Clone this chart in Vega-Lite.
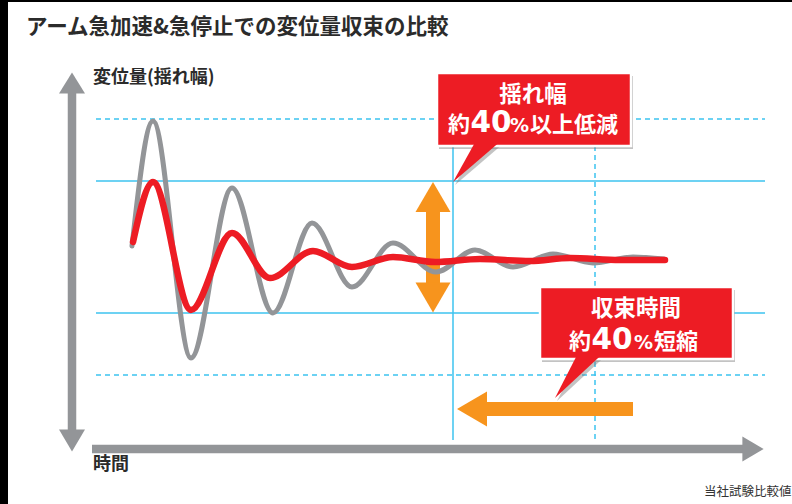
{
  "$schema": "https://vega.github.io/schema/vega-lite/v6.json",
  "width": 792,
  "height": 504,
  "autosize": "none",
  "padding": 0,
  "background": "white",
  "config": {"view": {"stroke": null}},
  "datasets": {
    "border": [{"t": -92, "t2": -84, "d": -244, "d2": 260}, {"t": -92, "t2": 700, "d": 258, "d2": 260}],
    "gridSolid": [{"t": 4, "t2": 673, "d": 79, "d2": 79}, {"t": 4, "t2": 673, "d": -53, "d2": -53}, {"t": 361, "t2": 361, "d": 150, "d2": -180}],
    "gridDashed": [{"t": 4, "t2": 673, "d": 141, "d2": 141}, {"t": 4, "t2": 673, "d": -115, "d2": -115}, {"t": 503, "t2": 503, "d": 150, "d2": -180}],
    "axisShaft": [{"t": -20, "t2": -20, "d": 170, "d2": -172}, {"t": 0, "t2": 653, "d": -189, "d2": -189}],
    "headUp": [{"t": -20, "d": 177}],
    "headDown": [{"t": -20, "d": -180.5}],
    "headRight": [{"t": 661, "d": -189}],
    "orangeShaft": [{"t": 341, "t2": 341, "d": 49, "d2": -24}, {"t": 393, "t2": 541, "d": -149, "d2": -149}],
    "orangeUp": [{"t": 341, "d": 63}],
    "orangeDown": [{"t": 341, "d": -37.5}],
    "orangeLeft": [{"t": 380, "d": -149}],
    "gray": [
      {"t": 40, "d": 14}, {"t": 61, "d": 139}, {"t": 99, "d": -98}, {"t": 140, "d": 72},
      {"t": 181, "d": -53}, {"t": 220, "d": 37}, {"t": 260, "d": -27}, {"t": 301, "d": 17},
      {"t": 344, "d": -12}, {"t": 383, "d": 10}, {"t": 421, "d": -7}, {"t": 461, "d": 6},
      {"t": 501, "d": -3}, {"t": 541, "d": 3}, {"t": 572, "d": 1}
    ],
    "red": [
      {"t": 41, "d": 18}, {"t": 61, "d": 78}, {"t": 99, "d": -50}, {"t": 140, "d": 27},
      {"t": 178, "d": -18}, {"t": 221, "d": 9}, {"t": 260, "d": -7}, {"t": 301, "d": 3},
      {"t": 343, "d": -2}, {"t": 388, "d": 1}, {"t": 438, "d": -1}, {"t": 478, "d": 2},
      {"t": 528, "d": 0}, {"t": 573, "d": 0}
    ],
    "boxes": [{"id": 1, "t": 345, "t2": 539, "d": 187, "d2": 114}, {"id": 2, "t": 448, "t2": 641, "d": -27, "d2": -99}],
    "pointers": [
      {"id": 1, "t": 361, "d": 78, "d2": 78}, {"id": 1, "t": 382.67, "d": 117, "d2": 96.57}, {"id": 1, "t": 406.5, "d": 117, "d2": 117},
      {"id": 2, "t": 463, "d": -138, "d2": -138}, {"id": 2, "t": 484.54, "d": -96, "d2": -118}, {"id": 2, "t": 508.23, "d": -96, "d2": -96}
    ],
    "title": [{"t": -66, "d": 232, "label": "アーム急加速&急停止での変位量収束の比較"}],
    "axisLabels": [{"t": 1, "d": 182, "label": "変位量(揺れ幅)"}, {"t": 1, "d": -205, "label": "時間"}],
    "note": [{"t": 612, "d": -232, "label": "当社試験比較値"}],
    "calloutHead": [{"t": 441, "d": 165, "label": "揺れ幅"}, {"t": 544, "d": -49, "label": "収束時間"}],
    "calloutKanji": [{"t": 356, "d": 128, "label": "約"}, {"t": 438, "d": 128, "label": "以上低減"}, {"t": 477, "d": -89, "label": "約"}, {"t": 562, "d": -89, "label": "短縮"}],
    "calloutNum": [{"t": 378.5, "d": 128, "label": "40"}, {"t": 499.5, "d": -89, "label": "40"}],
    "calloutPct": [{"t": 418, "d": 128, "label": "%"}, {"t": 542, "d": -89, "label": "%"}]
  },
  "encoding": {
    "x": {"field": "t", "type": "quantitative", "scale": {"domain": [-92, 700], "nice": false, "zero": false, "padding": 0}, "axis": null},
    "y": {"field": "d", "type": "quantitative", "scale": {"domain": [-244, 260], "nice": false, "zero": false, "padding": 0}, "axis": null}
  },
  "layer": [
    {"data": {"name": "border"}, "mark": {"type": "rect", "fill": "#000000"},
     "encoding": {"x2": {"field": "t2"}, "y2": {"field": "d2"}}},
    {"data": {"name": "gridSolid"}, "mark": {"type": "rule", "stroke": "#3cc3ef", "strokeWidth": 1.5},
     "encoding": {"x2": {"field": "t2"}, "y2": {"field": "d2"}}},
    {"data": {"name": "gridDashed"}, "mark": {"type": "rule", "stroke": "#3cc3ef", "strokeWidth": 1.5, "strokeDash": [5, 4]},
     "encoding": {"x2": {"field": "t2"}, "y2": {"field": "d2"}}},
    {"data": {"name": "axisShaft"}, "mark": {"type": "rule", "stroke": "#939598", "strokeWidth": 8.5, "strokeCap": "butt"},
     "encoding": {"x2": {"field": "t2"}, "y2": {"field": "d2"}}},
    {"data": {"name": "headUp"}, "mark": {"type": "point", "shape": "M0,-0.8L1,0.8L-1,0.8Z", "size": 676, "filled": true, "fill": "#939598", "opacity": 1, "strokeWidth": 0}},
    {"data": {"name": "headDown"}, "mark": {"type": "point", "shape": "M0,0.85L1,-0.85L-1,-0.85Z", "size": 676, "filled": true, "fill": "#939598", "opacity": 1, "strokeWidth": 0}},
    {"data": {"name": "headRight"}, "mark": {"type": "point", "shape": "M0.85,0L-0.85,1L-0.85,-1Z", "size": 625, "filled": true, "fill": "#939598", "opacity": 1, "strokeWidth": 0}},
    {"data": {"name": "orangeShaft"}, "mark": {"type": "rule", "stroke": "#f7941d", "strokeWidth": 14, "strokeCap": "butt"},
     "encoding": {"x2": {"field": "t2"}, "y2": {"field": "d2"}}},
    {"data": {"name": "orangeUp"}, "mark": {"type": "point", "shape": "M0,-0.857L1,0.857L-1,0.857Z", "size": 1225, "filled": true, "fill": "#f7941d", "opacity": 1, "strokeWidth": 0}},
    {"data": {"name": "orangeDown"}, "mark": {"type": "point", "shape": "M0,0.857L1,-0.857L-1,-0.857Z", "size": 1225, "filled": true, "fill": "#f7941d", "opacity": 1, "strokeWidth": 0}},
    {"data": {"name": "orangeLeft"}, "mark": {"type": "point", "shape": "M-0.857,0L0.857,-1L0.857,1Z", "size": 1225, "filled": true, "fill": "#f7941d", "opacity": 1, "strokeWidth": 0}},
    {"data": {"name": "gray"}, "mark": {"type": "line", "stroke": "#939598", "strokeWidth": 5, "interpolate": "monotone", "strokeCap": "round", "strokeJoin": "round"}},
    {"data": {"name": "red"}, "mark": {"type": "line", "stroke": "#ed1c24", "strokeWidth": 6.5, "interpolate": "monotone", "strokeCap": "round", "strokeJoin": "round"}},
    {"data": {"name": "boxes"}, "mark": {"type": "rect", "fill": "#7a7a7a", "opacity": 0.45, "xOffset": 2, "x2Offset": 2, "yOffset": 3, "y2Offset": 3},
     "encoding": {"x2": {"field": "t2"}, "y2": {"field": "d2"}}},
    {"data": {"name": "pointers"}, "mark": {"type": "area", "fill": "#7a7a7a", "opacity": 0.45, "xOffset": 2, "yOffset": 3, "y2Offset": 3},
     "encoding": {"y2": {"field": "d2"}, "detail": {"field": "id"}}},
    {"data": {"name": "boxes"}, "mark": {"type": "rect", "fill": "#ed1c24", "stroke": "#ffffff", "strokeWidth": 2.5},
     "encoding": {"x2": {"field": "t2"}, "y2": {"field": "d2"}}},
    {"data": {"name": "pointers"}, "mark": {"type": "area", "fill": "#ed1c24", "opacity": 1},
     "encoding": {"y2": {"field": "d2"}, "detail": {"field": "id"}}},
    {"data": {"name": "calloutHead"}, "mark": {"type": "text", "align": "center", "baseline": "middle", "font": "Noto Sans CJK JP", "fontSize": 22.5, "fontWeight": "bold", "fill": "#ffffff"},
     "encoding": {"text": {"field": "label"}}},
    {"data": {"name": "calloutKanji"}, "mark": {"type": "text", "align": "left", "baseline": "alphabetic", "font": "Noto Sans CJK JP", "fontSize": 22, "fontWeight": "bold", "fill": "#ffffff"},
     "encoding": {"text": {"field": "label"}}},
    {"data": {"name": "calloutNum"}, "mark": {"type": "text", "align": "left", "baseline": "alphabetic", "font": "DejaVu Sans", "fontSize": 29.5, "fontWeight": "bold", "fill": "#ffffff"},
     "encoding": {"text": {"field": "label"}}},
    {"data": {"name": "calloutPct"}, "mark": {"type": "text", "align": "left", "baseline": "alphabetic", "font": "DejaVu Sans", "fontSize": 19, "fontWeight": "bold", "fill": "#ffffff"},
     "encoding": {"text": {"field": "label"}}},
    {"data": {"name": "title"}, "mark": {"type": "text", "align": "left", "baseline": "middle", "font": "Noto Sans CJK JP", "fontSize": 21.5, "fontWeight": "bold", "fill": "#2b2b2b"},
     "encoding": {"text": {"field": "label"}}},
    {"data": {"name": "axisLabels"}, "mark": {"type": "text", "align": "left", "baseline": "middle", "font": "Noto Sans CJK JP", "fontSize": 18, "fontWeight": "bold", "fill": "#2b2b2b"},
     "encoding": {"text": {"field": "label"}}},
    {"data": {"name": "note"}, "mark": {"type": "text", "align": "left", "baseline": "middle", "font": "Noto Sans CJK JP", "fontSize": 12.5, "fill": "#333333"},
     "encoding": {"text": {"field": "label"}}}
  ]
}
